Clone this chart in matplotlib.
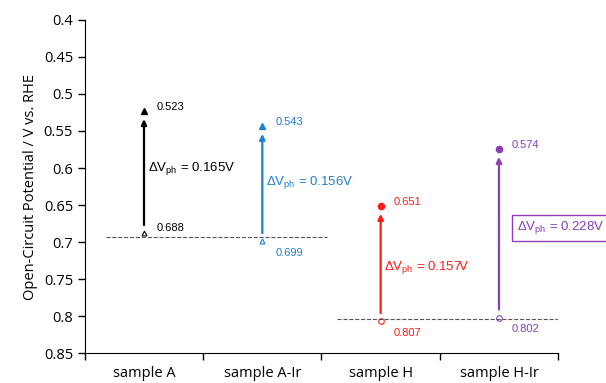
import matplotlib
matplotlib.use("Agg")
import matplotlib.pyplot as plt
import numpy as np

# data
samples = ["sample A", "sample A-Ir", "sample H", "sample H-Ir"]
dark = [0.688, 0.699, 0.807, 0.802]
light = [0.523, 0.543, 0.651, 0.574]
dv = [0.165, 0.156, 0.157, 0.228]
colors = ["black", "#1f7fd0", "#ff1a1a", "#8a3fb8"]
markers = ["^", "^", "o", "o"]
# where the delta-V text sits (y, in data)
dv_y = [0.601, 0.619, 0.734, 0.681]

plt.rcParams["font.family"] = ["Liberation Sans", "DejaVu Sans"]
plt.rcParams["mathtext.fontset"] = "custom"
plt.rcParams["mathtext.rm"] = "Liberation Sans"
plt.rcParams["mathtext.it"] = "Liberation Sans:italic"

fig = plt.figure(figsize=(6.06, 3.83), dpi=100)
ax = fig.add_axes([0.140, 0.078, 0.781, 0.870])

xs = np.arange(len(samples)) + 0.5
for i, x in enumerate(xs):
    c = colors[i]
    ms_dark = 3.5 if markers[i] == "^" else 4
    ms_light = 4.5
    ax.plot(x, light[i], marker=markers[i], color=c, ms=ms_light, ls="none")
    ax.plot(x, dark[i], marker=markers[i], mfc="white", mec=c, mew=0.8,
            ms=ms_dark, ls="none")
    ax.annotate("", xy=(x, light[i] + 0.011), xytext=(x, dark[i] - 0.011),
                arrowprops=dict(arrowstyle="-|>", color=c, lw=1.6,
                                mutation_scale=8, shrinkA=0, shrinkB=0))
    ax.text(x + 0.11, light[i] - 0.005, f"{light[i]:.3f}", color=c,
            fontsize=8, va="center", ha="left")
    off = -0.007 if i == 0 else 0.016
    ax.text(x + 0.11, dark[i] + off, f"{dark[i]:.3f}", color=c,
            fontsize=8, va="center", ha="left")
    lbl = r"$\Delta$V$_{\mathrm{ph}}$" + f" = {dv[i]:.3f}V"
    if i == 3:
        ax.text(x + 0.15, dv_y[i], lbl, color=c, fontsize=9.5, va="center",
                ha="left", clip_on=False,
                bbox=dict(boxstyle="square,pad=0.35", fc="white", ec=c, lw=1))
    else:
        ax.text(x + 0.03, dv_y[i], lbl, color=c, fontsize=9.5, va="center",
                ha="left")

# dark-level reference lines
ax.plot([0.18, 2.05], [np.mean(dark[:2])] * 2, ls="--", color="#555555", lw=0.8)
ax.plot([2.13, 4.0], [np.mean(dark[2:])] * 2, ls="--", color="#555555", lw=0.8)

ax.set_xlim(0, 4)
ax.set_ylim(0.85, 0.4)
ax.set_yticks(np.arange(0.4, 0.851, 0.05))
ax.set_yticklabels(["0.4", "0.45", "0.5", "0.55", "0.6", "0.65", "0.7",
                    "0.75", "0.8", "0.85"], family="Open Sans", fontsize=10.5)
ax.set_xticks(np.arange(0, 5))
ax.set_xticklabels([])
ax.set_xticks(xs, minor=True)
ax.set_xticklabels(samples, minor=True, family="Open Sans", fontsize=10.5)
ax.tick_params(axis="x", which="minor", length=0, pad=9)
ax.tick_params(axis="both", which="major", direction="out", length=5, width=1)
ax.set_ylabel("Open-Circuit Potential / V vs. RHE", family="Open Sans",
              fontsize=10.5)
for s in ["top", "right"]:
    ax.spines[s].set_visible(False)

fig.savefig("out.png", dpi=100)
